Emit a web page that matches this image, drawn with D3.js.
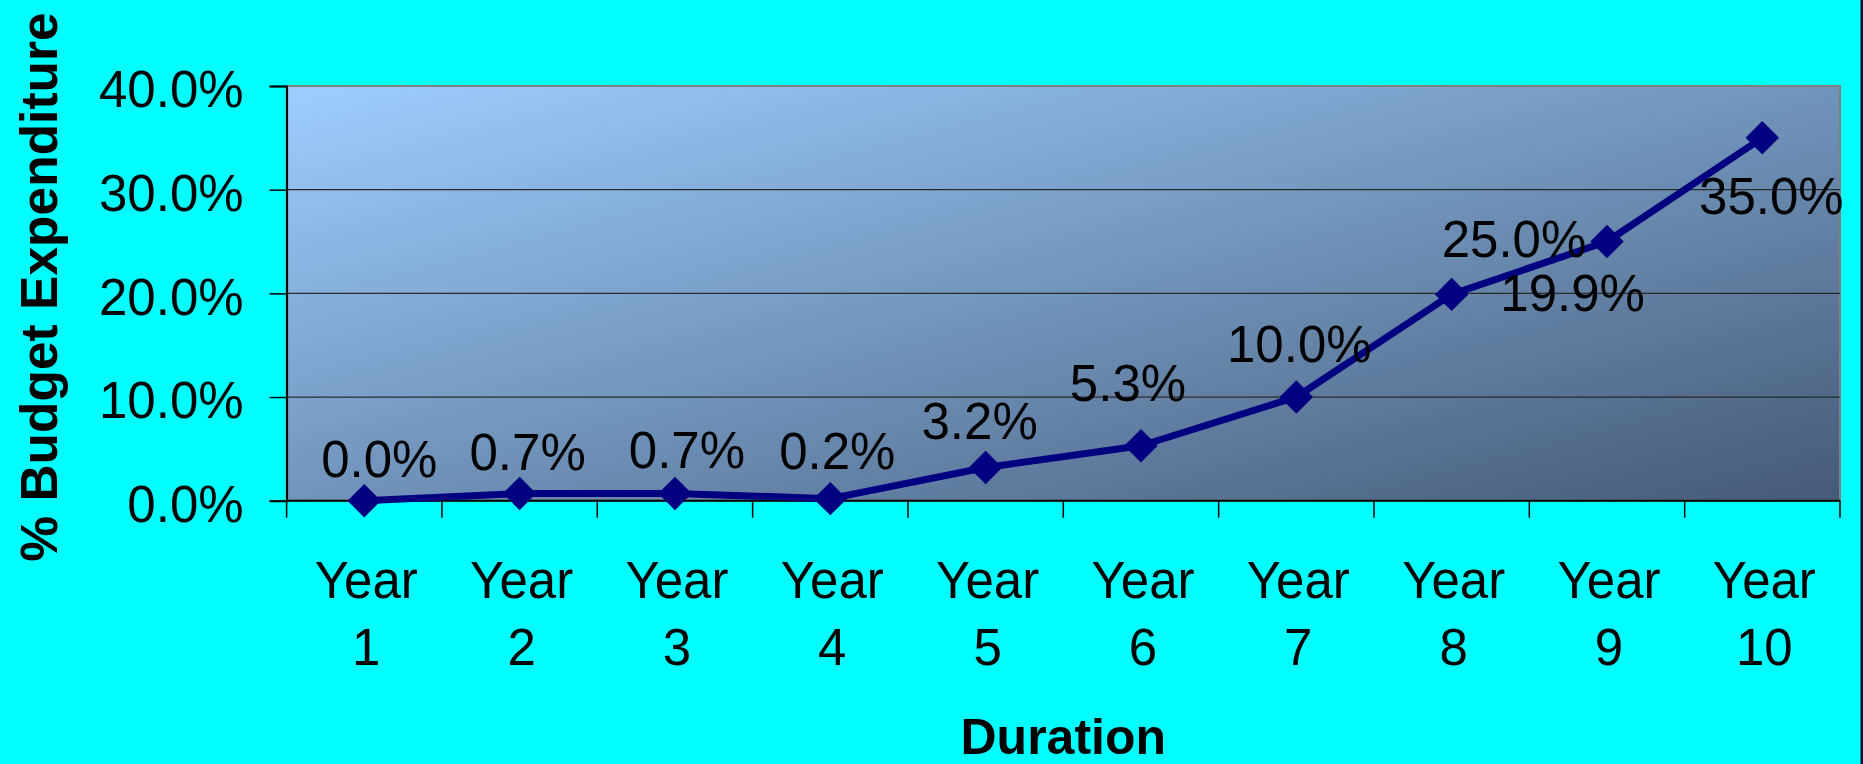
<!DOCTYPE html>
<html>
<head>
<meta charset="utf-8">
<script src="https://cdn.jsdelivr.net/npm/d3@7"></script>
<style>
  html, body { margin: 0; padding: 0; background: #00FFFF; }
  svg { display: block; }
  text { font-family: "Liberation Sans", Arial, Helvetica, sans-serif; }
</style>
</head>
<body>
<script>
// ---- data ----
const categories = ["Year 1","Year 2","Year 3","Year 4","Year 5","Year 6","Year 7","Year 8","Year 9","Year 10"];
const values = [0.000, 0.007, 0.007, 0.002, 0.032, 0.053, 0.100, 0.199, 0.250, 0.350];
const yTicks = [0, 0.1, 0.2, 0.3, 0.4];
// label offsets (layout only): [dx, dy] from each point to label centre/baseline
const labelOffsets = [[15,-24],[8,-23],[12,-25],[7,-30],[-6,-29],[-13,-45],[3,-35],[121,17],[-93,15],[9,76]];

const W = 1863, H = 764;
const plot = { left: 286.6, right: 1840, top: 86, bottom: 500.7 };

const svg = d3.select("body").append("svg").attr("width", W).attr("height", H);
svg.append("rect").attr("width", W).attr("height", H).attr("fill", "#00FFFF");
svg.append("rect").attr("x", W - 2.5).attr("y", 0).attr("width", 2.5).attr("height", H).attr("fill", "#101030");

const defs = svg.append("defs");
const grad = defs.append("linearGradient").attr("id", "bg")
  .attr("x1", 0).attr("y1", 0).attr("x2", 1).attr("y2", 1);
grad.append("stop").attr("offset", "0%").attr("stop-color", "#9DCEFF");
grad.append("stop").attr("offset", "100%").attr("stop-color", "#455A77");

const x = d3.scaleBand().domain(categories).range([plot.left, plot.right]).padding(0);
const y = d3.scaleLinear().domain([0, 0.4]).range([plot.bottom, plot.top]);
const cx = d => x(d) + x.bandwidth() / 2;

// plot area
svg.append("rect")
  .attr("x", plot.left).attr("y", plot.top)
  .attr("width", plot.right - plot.left).attr("height", plot.bottom - plot.top)
  .attr("fill", "url(#bg)").attr("stroke", "#808080").attr("stroke-width", 2);

// gridlines
svg.append("g").selectAll("line").data(yTicks.filter(t => t > 0)).join("line")
  .attr("x1", plot.left).attr("x2", plot.right)
  .attr("y1", d => y(d)).attr("y2", d => y(d))
  .attr("stroke", d => d === 0.4 ? "#808080" : "#2a2a2a").attr("stroke-width", d => d === 0.4 ? 2 : 1.3);

// y axis
const yAxis = svg.append("g").attr("transform", `translate(${plot.left},0)`)
  .call(d3.axisLeft(y).tickValues(yTicks).tickFormat(d3.format(".1%")).tickSize(17).tickPadding(26));
yAxis.select(".domain").attr("stroke", "#000").attr("stroke-width", 2);
yAxis.selectAll(".tick line").attr("stroke", "#000").attr("stroke-width", 1.5);
yAxis.selectAll(".tick text").attr("font-size", 51).attr("fill", "#000").attr("dy", "0.41em")
  .style("font-family", "'Liberation Sans', Arial, sans-serif");

// x axis
const xAxis = svg.append("g").attr("transform", `translate(0,${plot.bottom})`);
xAxis.append("line").attr("x1", plot.left).attr("x2", plot.right).attr("y1", 0).attr("y2", 0)
  .attr("stroke", "#000").attr("stroke-width", 2);
const boundaries = categories.map(c => x(c)).concat([x.range()[1]]);
xAxis.selectAll("line.tk").data(boundaries).join("line").attr("class", "tk")
  .attr("x1", d => d).attr("x2", d => d).attr("y1", 0).attr("y2", 17)
  .attr("stroke", "#000").attr("stroke-width", 1.5);
const xl = xAxis.selectAll("text.cat").data(categories).join("text").attr("class", "cat")
  .attr("text-anchor", "middle").attr("font-size", 51).attr("fill", "#000");
xl.each(function(d) {
  const parts = d.split(" ");
  const t = d3.select(this);
  t.append("tspan").attr("x", cx(d) + 2).attr("y", 97.6).text(parts[0]);
  t.append("tspan").attr("x", cx(d) + 2).attr("y", 164.3).text(parts[1]);
});

// line
const line = d3.line().x((d, i) => cx(categories[i])).y(d => y(d));
svg.append("path").datum(values).attr("d", line)
  .attr("fill", "none").attr("stroke", "#000080").attr("stroke-width", 7).attr("stroke-linejoin", "round");

// markers
const sym = d3.symbol().type(d3.symbolSquare).size(560);
svg.append("g").selectAll("path").data(values).join("path")
  .attr("d", sym)
  .attr("transform", (d, i) => `translate(${cx(categories[i])},${y(d)}) rotate(45)`)
  .attr("fill", "#000080");

// data labels
const fmt = d3.format(".1%");
svg.append("g").selectAll("text").data(values).join("text")
  .attr("x", (d, i) => cx(categories[i]) + labelOffsets[i][0])
  .attr("y", (d, i) => y(d) + labelOffsets[i][1])
  .attr("text-anchor", "middle").attr("font-size", 51).attr("fill", "#000")
  .text(d => fmt(d));

// axis titles
svg.append("text")
  .attr("transform", `translate(57,287) rotate(-90)`)
  .attr("text-anchor", "middle").attr("font-size", 51.5).attr("font-weight", "bold").attr("fill", "#000")
  .text("% Budget Expenditure");
svg.append("text")
  .attr("x", (plot.left + plot.right) / 2).attr("y", 754)
  .attr("text-anchor", "middle").attr("font-size", 50).attr("font-weight", "bold").attr("fill", "#000")
  .text("Duration");
</script>
</body>
</html>
